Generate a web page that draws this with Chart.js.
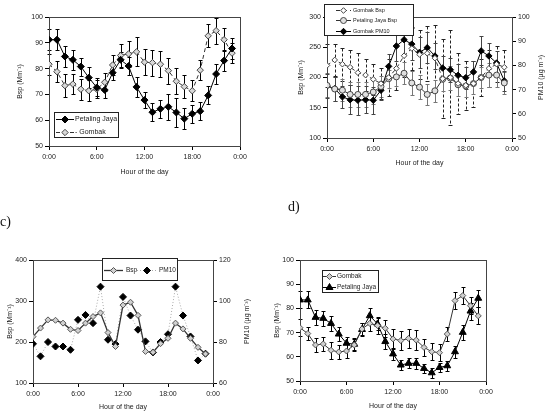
<!DOCTYPE html>
<html>
<head>
<meta charset="utf-8">
<script src="https://cdn.jsdelivr.net/npm/chart.js@4"></script>
<style>
  html, body { margin: 0; padding: 0; background: #fff; }
  #page { position: relative; width: 553px; height: 411px; overflow: hidden; }
  canvas { position: absolute; }
  .tag { position: absolute; font-family: "Liberation Serif", serif; font-size: 14px; color: #111; }
</style>
</head>
<body>
<div id="page">
  <canvas id="chartA" width="276" height="205" style="left:0;top:0"></canvas>
  <canvas id="chartB" width="277" height="205" style="left:276px;top:0"></canvas>
  <canvas id="chartC" width="262" height="206" style="left:0;top:205px"></canvas>
  <canvas id="chartD" width="291" height="206" style="left:262px;top:205px"></canvas>
  <div class="tag" style="left:0;top:214px">c)</div>
  <div class="tag" style="left:288px;top:199px">d)</div>
</div>
<script>
const hours = [0, 1, 2, 3, 4, 5, 6, 7, 8, 9, 10, 11, 12, 13, 14, 15, 16, 17, 18, 19, 20, 21, 22, 23];
const xTickLabels = ["0:00", "6:00", "12:00", "18:00", "0:00"];

// a) Bsp, Petaling Jaya vs Gombak
const aPetalingJaya = [91.2, 91.2, 84.7, 83.4, 80.8, 76.5, 72.7, 71.7, 78.4, 83.4, 81.0, 72.9, 67.8, 63.1, 64.4, 65.2, 63.0, 60.6, 62.5, 63.5, 69.6, 77.9, 83.1, 87.8];
const aPetalingJayaErr = [4, 4, 4, 4, 3.5, 4, 3.5, 3, 3, 3, 3.5, 4, 3, 3.5, 3.5, 5, 5.5, 4, 3.5, 3.5, 3.5, 4, 4, 4];
const aGombak = [81.7, 78.8, 73.4, 74.0, 72.0, 71.4, 72.0, 74.7, 81.4, 85.1, 85.7, 86.5, 82.5, 82.3, 81.7, 79.2, 75.1, 73.0, 71.4, 79.4, 92.7, 94.7, 91.2, 86.0];
const aGombakErr = [4, 4, 4.5, 4, 4, 4, 3.5, 3.5, 4, 4.5, 5, 5.6, 5, 5, 5, 5, 5, 4.5, 4, 4, 4.5, 5, 4.5, 4];

// b) Bsp and PM10
const bGombakBsp = [220, 229, 222, 217, 208, 204, 197, 190, 200, 215, 236, 248, 238, 240, 232, 198, 200, 190, 187, 190, 200, 215, 222, 217];
const bGombakBspErr = [35, 27, 27, 29, 33, 27, 26, 25, 30, 35, 35, 35, 40, 45, 55, 65, 78, 50, 40, 38, 30, 30, 30, 28];
const bPetalingJayaBsp = [187, 181, 179, 172, 172, 172, 176, 185, 198, 201, 207, 191, 184, 172, 178, 197, 199, 188, 186, 190, 200, 204, 204, 191];
const bPetalingJayaBspErr = [20, 20, 18, 20, 20, 20, 20, 18, 15, 15, 18, 20, 20, 18, 18, 20, 20, 18, 18, 18, 18, 20, 20, 18];
const bGombakPM10 = [71.5, 70.4, 67.0, 65.8, 65.6, 65.8, 65.6, 69.7, 79.6, 88.0, 90.6, 88.8, 85.4, 87.3, 83.9, 78.9, 78.2, 75.9, 74.9, 77.3, 86.0, 83.9, 81.0, 73.6];
const bGombakPM10Err = [5, 5, 4.5, 6, 6, 5.5, 5.5, 4, 5, 6, 6, 6.5, 6.5, 6.5, 5.5, 5, 5, 4.5, 4.5, 4.5, 6, 5.5, 5, 4];

// c) Bsp and PM10
const cBsp = [213, 234, 254, 253, 246, 231, 228, 246, 262, 271, 223, 189, 290, 297, 265, 177, 175, 196, 209, 246, 232, 209, 187, 171];
const cPM10 = [79.1, 73.0, 80.0, 77.8, 77.8, 76.2, 90.8, 93.2, 89.2, 107.0, 81.1, 79.0, 102.0, 92.9, 86.0, 80.3, 74.9, 80.0, 83.8, 107.0, 92.9, 82.7, 71.0, 74.3];

// d) Bsp, Gombak vs Petaling Jaya
const dGombak = [72.0, 69.6, 64.9, 65.3, 62.7, 62.0, 62.4, 64.9, 71.5, 73.8, 72.9, 71.8, 67.4, 66.7, 67.6, 66.9, 63.9, 62.1, 61.7, 69.4, 83.2, 85.3, 81.1, 76.9];
const dGombakErr = [3.5, 2.8, 3, 3, 3.5, 3, 3, 2.5, 2.5, 3, 3.5, 3.5, 4, 4, 4, 4, 3.5, 3.5, 3.5, 3, 3.5, 3.5, 3.5, 3.5];
const dPetalingJaya = [83.5, 83.5, 76.3, 75.9, 73.8, 69.4, 65.6, 65.2, 71.3, 77.0, 73.6, 66.3, 61.2, 56.6, 57.3, 57.3, 55.2, 53.4, 55.6, 56.3, 62.1, 70.1, 78.9, 84.2];
const dPetalingJayaErr = [3.5, 3.5, 3, 3, 3, 2.8, 2.5, 2.5, 2.5, 3, 2.5, 3, 2.5, 2, 2, 2.2, 2, 2, 2, 2, 2.5, 3, 3.5, 3.5];

const FONT = "Liberation Sans, Arial, sans-serif";
Chart.defaults.font.family = FONT;
Chart.defaults.color = "#222";
Chart.defaults.animation = false;

const points = (vals) => hours.map((h, i) => ({ x: h, y: vals[i] }));

// vertical error bars drawn through the dataset's own y scale
const errorBars = {
  id: "errorBars",
  beforeDatasetsDraw(chart) {
    const ctx = chart.ctx;
    chart.data.datasets.forEach((ds, i) => {
      if (!ds.errors) return;
      const meta = chart.getDatasetMeta(i);
      const ys = chart.scales[meta.yAxisID];
      ctx.save();
      ctx.strokeStyle = ds.errorColor || "#000";
      ctx.lineWidth = 1;
      meta.data.forEach((pt, j) => {
        const v = ds.data[j].y;
        const e = ds.errors[j];
        const top = Math.round(ys.getPixelForValue(v + e)) + 0.5;
        const bot = Math.round(ys.getPixelForValue(v - e)) + 0.5;
        const x = Math.round(pt.x) + 0.5;
        ctx.setLineDash(ds.errorDash || []);
        ctx.beginPath();
        ctx.moveTo(x, top);
        ctx.lineTo(x, bot);
        ctx.stroke();
        ctx.setLineDash([]);
        ctx.beginPath();
        ctx.moveTo(x - 2, top);
        ctx.lineTo(x + 2, top);
        ctx.moveTo(x - 2, bot);
        ctx.lineTo(x + 2, bot);
        ctx.stroke();
      });
      ctx.restore();
    });
  },
};

// box round the plot area
const frame = {
  id: "frame",
  beforeDatasetsDraw(chart, args, opts) {
    const { left, top, right, bottom } = chart.chartArea;
    const ctx = chart.ctx;
    ctx.save();
    ctx.strokeStyle = opts.color || "#444";
    ctx.lineWidth = 1;
    ctx.strokeRect(Math.round(left) + 0.5, Math.round(top) + 0.5, Math.round(right - left), Math.round(bottom - top));
    ctx.restore();
  },
};

// right axis title, reading bottom to top like the left one
const rightTitle = {
  id: "rightTitle",
  afterDraw(chart, args, opts) {
    if (!opts.text) return;
    const ctx = chart.ctx;
    const { top, bottom } = chart.chartArea;
    ctx.save();
    ctx.translate(opts.x, (top + bottom) / 2);
    ctx.rotate(-Math.PI / 2);
    ctx.font = "7px " + FONT;
    ctx.fillStyle = "#222";
    ctx.textAlign = "center";
    ctx.textBaseline = "middle";
    ctx.fillText(opts.text, 0, 0);
    ctx.restore();
  },
};

// legend in a white box at a fixed spot
const boxLegend = {
  id: "boxLegend",
  afterDraw(chart, args, opts) {
    if (!opts.items) return;
    const ctx = chart.ctx;
    ctx.save();
    ctx.fillStyle = "#fff";
    ctx.fillRect(opts.x, opts.y, opts.w, opts.h);
    ctx.strokeStyle = "#222";
    ctx.lineWidth = 1;
    ctx.strokeRect(opts.x + 0.5, opts.y + 0.5, opts.w, opts.h);
    ctx.font = opts.size + "px " + FONT;
    ctx.textBaseline = "middle";
    opts.items.forEach((it) => {
      const ds = chart.data.datasets[it.ds];
      const x0 = opts.x + it.dx;
      const y0 = Math.round(opts.y + it.dy) + 0.5;
      ctx.strokeStyle = ds.borderColor;
      ctx.lineWidth = ds.borderWidth;
      ctx.setLineDash(ds.borderDash || []);
      ctx.beginPath();
      ctx.moveTo(x0, y0);
      ctx.lineTo(x0 + it.len, y0);
      ctx.stroke();
      ctx.setLineDash([]);
      ctx.fillStyle = ds.pointBackgroundColor;
      ctx.strokeStyle = ds.pointBorderColor;
      ctx.lineWidth = 1;
      Chart.helpers.drawPoint(ctx, { pointStyle: ds.pointStyle, radius: ds.pointRadius, borderWidth: 1, rotation: 0 }, x0 + it.len / 2, y0);
      ctx.fillStyle = "#222";
      ctx.fillText(ds.label, opts.x + it.tx, y0);
    });
    ctx.restore();
  },
};

function xScale(height) {
  return {
    type: "linear",
    min: 0,
    max: 24,
    ticks: { stepSize: 6, padding: 3, font: { size: 7 }, maxRotation: 0, autoSkip: false, callback: (v) => xTickLabels[v / 6] },
    grid: { drawOnChartArea: false, tickLength: 4, color: "#000" },
    border: { color: "#000" },
    title: { display: true, text: "Hour of the day", font: { size: 7 }, padding: 0 },
    afterFit: (s) => { s.height = height; },
  };
}

function yScale(position, min, max, step, title, width, titlePad) {
  return {
    type: "linear",
    position: position,
    min: min,
    max: max,
    ticks: { stepSize: step, padding: 2, font: { size: 7 } },
    grid: { drawOnChartArea: false, tickLength: 4, color: "#000" },
    border: { color: "#000" },
    title: { display: !!title, text: title, font: { size: 7 }, padding: { top: titlePad, bottom: 0 } },
    afterFit: (s) => { s.width = width; },
  };
}

function lineSet(label, vals, style) {
  return Object.assign({
    label: label,
    data: points(vals),
    borderColor: "#000",
    borderWidth: 1,
    pointRadius: 3.5,
    pointBorderWidth: 1,
    tension: 0,
    yAxisID: "y",
  }, style);
}

const baseOptions = (padding, scales, legend, right) => ({
  responsive: false,
  layout: { padding: padding },
  scales: scales,
  plugins: {
    legend: { display: false },
    tooltip: { enabled: false },
    boxLegend: legend,
    rightTitle: right || {},
  },
});

const plugins = [errorBars, frame, rightTitle, boxLegend];

// a)
new Chart(document.getElementById("chartA"), {
  type: "line",
  data: {
    datasets: [
      lineSet("Petaling Jaya", aPetalingJaya, {
        pointStyle: "rectRot", pointBackgroundColor: "#000", pointBorderColor: "#000",
        errors: aPetalingJayaErr, errorColor: "#000",
      }),
      lineSet("- Gombak", aGombak, {
        borderColor: "#333", borderDash: [4, 3], pointStyle: "rectRot", pointRadius: 3.2,
        pointBackgroundColor: "#d8d8d8", pointBorderColor: "#444",
        errors: aGombakErr, errorColor: "#000",
      }),
    ],
  },
  options: baseOptions(
    { left: 0, top: 17, right: 36, bottom: 29 },
    { x: xScale(30), y: yScale("left", 50, 100, 10, "Bsp (Mm⁻¹)", 49, 16) },
    {
      x: 54, y: 112, w: 64, h: 25, size: 7,
      items: [
        { ds: 0, dx: 2, dy: 7, len: 18, tx: 21 },
        { ds: 1, dx: 2, dy: 19.5, len: 18, tx: 21 },
      ],
    }
  ),
  plugins: plugins,
});

// b)
new Chart(document.getElementById("chartB"), {
  type: "line",
  data: {
    datasets: [
      lineSet("Gombak Bsp", bGombakBsp, {
        borderColor: "#333", borderDash: [4, 3], pointStyle: "rectRot", pointRadius: 2.8,
        pointBackgroundColor: "#fff", pointBorderColor: "#444",
        errors: bGombakBspErr, errorColor: "#222", errorDash: [3, 2],
      }),
      lineSet("Petaling Jaya Bsp", bPetalingJayaBsp, {
        borderColor: "#333", pointStyle: "circle", pointRadius: 3,
        pointBackgroundColor: "#e0e0e0", pointBorderColor: "#444",
        errors: bPetalingJayaBspErr, errorColor: "#777",
      }),
      lineSet("Gombak PM10", bGombakPM10, {
        yAxisID: "y1", pointStyle: "rectRot", pointRadius: 3.2, pointBackgroundColor: "#000", pointBorderColor: "#000",
        errors: bGombakPM10Err, errorColor: "#444",
      }),
    ],
  },
  options: baseOptions(
    { left: 0, top: 17, right: 0, bottom: 38 },
    {
      x: xScale(29),
      y: yScale("left", 100, 300, 50, "Bsp (Mm⁻¹)", 51, 21),
      y1: yScale("right", 50, 100, 10, "", 41, 0),
    },
    {
      x: 48, y: 4, w: 89, h: 31, size: 5.5,
      items: [
        { ds: 0, dx: 12, dy: 6, len: 15, tx: 29 },
        { ds: 1, dx: 12, dy: 16, len: 15, tx: 29 },
        { ds: 2, dx: 12, dy: 26.5, len: 15, tx: 29 },
      ],
    },
    { text: "PM10 (µg m⁻³)", x: 265 }
  ),
  plugins: plugins,
});

// c)
new Chart(document.getElementById("chartC"), {
  type: "line",
  data: {
    datasets: [
      lineSet("Bsp", cBsp, {
        borderColor: "#333", borderWidth: 1.3, pointStyle: "rectRot", pointRadius: 3,
        pointBackgroundColor: "#d0d0d0", pointBorderColor: "#555",
      }),
      lineSet("PM10", cPM10, {
        yAxisID: "y1", borderColor: "#aaa", borderDash: [1, 2], pointStyle: "rectRot", pointRadius: 3.5,
        pointBackgroundColor: "#000", pointBorderColor: "#000",
      }),
    ],
  },
  options: baseOptions(
    { left: 0, top: 55, right: 0, bottom: 0 },
    {
      x: xScale(28),
      y: yScale("left", 100, 400, 100, "Bsp (Mm⁻¹)", 33, 6),
      y1: yScale("right", 60, 120, 20, "", 49, 0),
    },
    {
      x: 102, y: 53, w: 75, h: 22, size: 6.5,
      items: [
        { ds: 0, dx: 2, dy: 12, len: 19, tx: 24 },
        { ds: 1, dx: 35, dy: 12, len: 20, tx: 57 },
      ],
    },
    { text: "PM10 (µg m⁻³)", x: 247 }
  ),
  plugins: plugins,
});

// d)
new Chart(document.getElementById("chartD"), {
  type: "line",
  data: {
    datasets: [
      lineSet("Gombak", dGombak, {
        borderColor: "#333", pointStyle: "rectRot", pointRadius: 3,
        pointBackgroundColor: "#d0d0d0", pointBorderColor: "#555",
        errors: dGombakErr, errorColor: "#000",
      }),
      lineSet("Petaling Jaya", dPetalingJaya, {
        pointStyle: "triangle", pointRadius: 4, pointBackgroundColor: "#000", pointBorderColor: "#000",
        errors: dPetalingJayaErr, errorColor: "#000",
      }),
    ],
  },
  options: baseOptions(
    { left: 0, top: 55, right: 67, bottom: 1 },
    { x: xScale(29), y: yScale("left", 50, 100, 10, "Bsp (Mm⁻¹)", 38, 11) },
    {
      x: 60, y: 65, w: 56, h: 22, size: 6.5,
      items: [
        { ds: 0, dx: 1, dy: 5.7, len: 13, tx: 15 },
        { ds: 1, dx: 1, dy: 16.7, len: 13, tx: 15 },
      ],
    }
  ),
  plugins: plugins,
});
</script>
</body>
</html>
